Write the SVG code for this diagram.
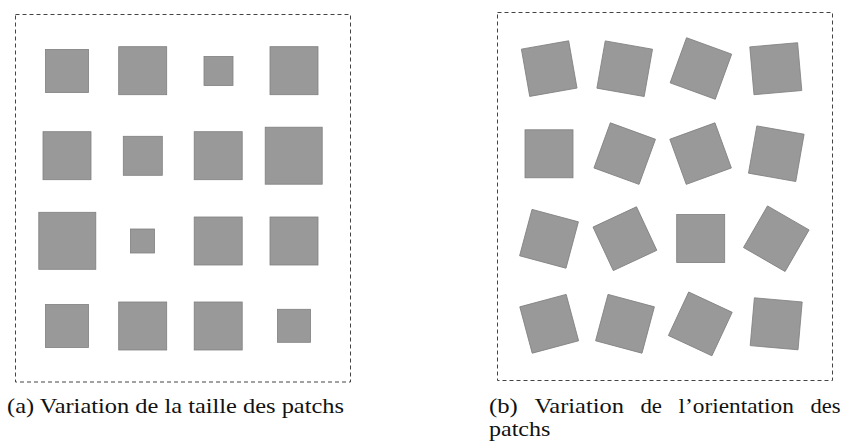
<svg xmlns="http://www.w3.org/2000/svg" width="852" height="441" viewBox="0 0 852 441">
<style>
.frame{fill:none;stroke:#444;stroke-width:1;stroke-dasharray:4 3}
.p{fill:#999999;stroke:#7f7f7f;stroke-width:0.8}
.cap{font-family:"Liberation Serif","DejaVu Serif",serif;font-size:22px;fill:#111}
</style>
<rect x="0" y="0" width="852" height="441" fill="#fff"/>
<g id="panel-a">
<rect class="frame" x="15.5" y="14.5" width="335" height="367.5"/>
<rect class="p" x="45.5" y="49.5" width="43" height="43"/>
<rect class="p" x="118.7" y="46.7" width="48" height="48"/>
<rect class="p" x="204" y="56.5" width="29" height="29"/>
<rect class="p" x="270" y="46.7" width="48" height="48"/>
<rect class="p" x="43" y="131.7" width="48" height="48"/>
<rect class="p" x="123.3" y="136.3" width="39" height="39"/>
<rect class="p" x="194.2" y="131.7" width="48" height="48"/>
<rect class="p" x="265.2" y="127.2" width="57" height="57"/>
<rect class="p" x="38.8" y="212.3" width="57" height="57"/>
<rect class="p" x="130.5" y="229" width="24" height="24"/>
<rect class="p" x="194.2" y="217" width="48" height="48"/>
<rect class="p" x="270" y="217" width="48" height="48"/>
<rect class="p" x="45.5" y="304.5" width="43" height="43"/>
<rect class="p" x="118.7" y="302" width="48" height="48"/>
<rect class="p" x="194.2" y="302" width="48" height="48"/>
<rect class="p" x="277.5" y="309.3" width="33" height="33"/>
</g>
<g id="panel-b">
<rect class="frame" x="497.5" y="12.5" width="335" height="368"/>
<rect class="p" x="-24" y="-24" width="48" height="48" transform="translate(549.2 68.6) rotate(-10)"/>
<rect class="p" x="-24" y="-24" width="48" height="48" transform="translate(624.7 68.7) rotate(10)"/>
<rect class="p" x="-24" y="-24" width="48" height="48" transform="translate(700.9 68.5) rotate(20)"/>
<rect class="p" x="-24" y="-24" width="48" height="48" transform="translate(775.8 68.7) rotate(-5)"/>
<rect class="p" x="-24" y="-24" width="48" height="48" transform="translate(549 153.8)"/>
<rect class="p" x="-24" y="-24" width="48" height="48" transform="translate(624.7 153.6) rotate(20)"/>
<rect class="p" x="-24" y="-24" width="48" height="48" transform="translate(700.6 153.6) rotate(-20)"/>
<rect class="p" x="-24" y="-24" width="48" height="48" transform="translate(776.3 153.7) rotate(10)"/>
<rect class="p" x="-24" y="-24" width="48" height="48" transform="translate(549 238.8) rotate(15)"/>
<rect class="p" x="-24" y="-24" width="48" height="48" transform="translate(624.9 238.7) rotate(-25)"/>
<rect class="p" x="-24" y="-24" width="48" height="48" transform="translate(700.7 238.5)"/>
<rect class="p" x="-24" y="-24" width="48" height="48" transform="translate(776.3 238.7) rotate(30)"/>
<rect class="p" x="-24" y="-24" width="48" height="48" transform="translate(549.2 323.8) rotate(-15)"/>
<rect class="p" x="-24" y="-24" width="48" height="48" transform="translate(625 323.8) rotate(15)"/>
<rect class="p" x="-24" y="-24" width="48" height="48" transform="translate(700.3 323.9) rotate(25)"/>
<rect class="p" x="-24" y="-24" width="48" height="48" transform="translate(776.2 323.8) rotate(5)"/>
</g>
<g id="captions">
<text class="cap" x="7" y="413" textLength="337" lengthAdjust="spacingAndGlyphs">(a) Variation de la taille des patchs</text>
<text class="cap" y="413"><tspan x="489" textLength="28.8" lengthAdjust="spacingAndGlyphs">(b)</tspan><tspan x="534.4" textLength="89.5" lengthAdjust="spacingAndGlyphs">Variation</tspan><tspan x="640.4" textLength="21.6" lengthAdjust="spacingAndGlyphs">de</tspan><tspan x="678.6" textLength="115.3" lengthAdjust="spacingAndGlyphs">l’orientation</tspan><tspan x="810.4" textLength="30.1" lengthAdjust="spacingAndGlyphs">des</tspan></text>
<text class="cap" x="489" y="436" textLength="61.3" lengthAdjust="spacingAndGlyphs">patchs</text>
</g>
</svg>
